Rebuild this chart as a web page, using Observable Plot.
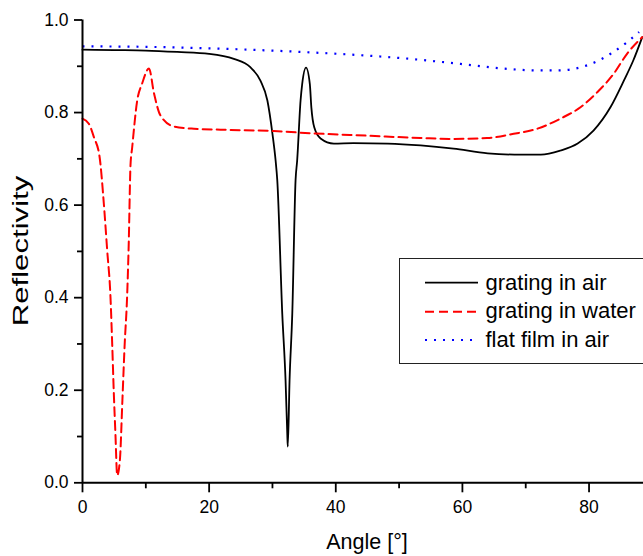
<!DOCTYPE html>
<html>
<head>
<meta charset="utf-8">
<script src="https://cdn.jsdelivr.net/npm/d3@7"></script>
<script src="https://cdn.jsdelivr.net/npm/@observablehq/plot@0.6"></script>
<style>
  html, body { margin: 0; padding: 0; background: #fff; overflow: hidden; }
  #wrap { position: relative; width: 643px; height: 556px; overflow: hidden; font-family: "Liberation Sans", Arial, sans-serif; }
  #legend { position: absolute; left: 399px; top: 258px; width: 260px; height: 106px; border: 1.5px solid #222; box-sizing: border-box; background: #fff; }
</style>
</head>
<body>
<div id="wrap"></div>
<script>
// ---- data ----
const seriesNames = ["grating in air", "grating in water", "flat film in air"];

const airAngle = [0, 5, 10, 15, 20, 23.9, 26.5, 28.1, 29.2, 30.0, 30.5, 30.76, 31.55, 32.07, 32.34, 32.42, 32.7, 33.13, 33.65, 33.9, 34.44, 34.7, 35.3, 35.9, 36.15, 36.6, 37.6, 39.7, 42.8, 48.2, 53.4, 58.6, 64.0, 69.2, 72.4, 75.5, 78.2, 80.7, 83.4, 85.5, 87.0, 88.4];
const airR     = [0.936, 0.935, 0.934, 0.931, 0.927, 0.916, 0.898, 0.869, 0.826, 0.754, 0.696, 0.654, 0.365, 0.221, 0.106, 0.078, 0.221, 0.365, 0.654, 0.696, 0.826, 0.862, 0.897, 0.862, 0.81, 0.768, 0.744, 0.733, 0.734, 0.733, 0.729, 0.722, 0.712, 0.709, 0.709, 0.718, 0.733, 0.761, 0.812, 0.869, 0.913, 0.963];

const waterAngle = [0, 1.0, 1.8, 2.7, 3.37, 3.9, 4.42, 4.69, 4.95, 5.2, 5.48, 5.9, 6.3, 6.64, 7.06, 7.3, 7.58, 7.85, 8.64, 9.4, 10.5, 11.3, 12.3, 14.4, 17.6, 21.8, 30.2, 36.5, 45, 53.4, 58.6, 63.9, 68.1, 71.8, 75.5, 78.7, 81.3, 83.9, 86.0, 88.4];
const waterR     = [0.787, 0.776, 0.747, 0.704, 0.603, 0.502, 0.401, 0.300, 0.192, 0.106, 0.016, 0.048, 0.178, 0.293, 0.408, 0.516, 0.686, 0.725, 0.826, 0.862, 0.895, 0.841, 0.794, 0.770, 0.765, 0.763, 0.760, 0.755, 0.750, 0.745, 0.743, 0.745, 0.754, 0.765, 0.787, 0.812, 0.844, 0.884, 0.927, 0.963];

const flatAngle = [0, 10, 21.8, 36, 45, 53.4, 59.7, 66.6, 71.8, 75, 79.7, 83.4, 86, 87.9];
const flatR     = [0.943, 0.942, 0.938, 0.930, 0.923, 0.914, 0.905, 0.895, 0.891, 0.891, 0.902, 0.927, 0.952, 0.974];

const xMajor = [0, 20, 40, 60, 80];
const xMinor = [10, 30, 50, 70];
const yMajor = [0, 0.2, 0.4, 0.6, 0.8, 1.0];
const yMinor = [0.1, 0.3, 0.5, 0.7, 0.9];
const xTitle = "Angle [°]";
const yTitle = "Reflectivity";

// ---- build ----
const toRows = (xs, ys) => xs.map((x, i) => ({x, y: ys[i]}));
const air = toRows(airAngle, airR);
const water = toRows(waterAngle, waterR);
const flat = toRows(flatAngle, flatR);

const styles = [
  {stroke: "#000000", dash: null, width: 1.8},
  {stroke: "#ff0000", dash: "9,5", width: 2},
  {stroke: "#0000ff", dash: "2,7", width: 2.2}
];

const font = "'Liberation Sans', Arial, sans-serif";

const chart = Plot.plot({
  width: 643,
  height: 556,
  marginLeft: 82,
  marginRight: 0,
  marginTop: 19.5,
  marginBottom: 73.7,
  x: {domain: [0, 88.6]},
  y: {domain: [0, 1]},
  style: {fontFamily: font, fontSize: "17.5px", color: "#000", background: "#fff", overflow: "visible"},
  marks: [
    Plot.axisY({ticks: yMajor, tickSize: 8, tickPadding: 6, tickFormat: d3.format(".1f"), label: null, strokeWidth: 1.8, fontSize: 17.5}),
    Plot.axisY({ticks: yMinor, tickSize: 5, tickFormat: () => "", label: null, strokeWidth: 1.8}),
    Plot.axisX({ticks: xMajor, tickSize: 10, tickPadding: 8, tickFormat: d => String(d), label: null, strokeWidth: 1.8, fontSize: 17.5}),
    Plot.axisX({ticks: xMinor, tickSize: 6, tickFormat: () => "", label: null, strokeWidth: 1.8}),
    Plot.line(air, {x: "x", y: "y", stroke: styles[0].stroke, strokeWidth: styles[0].width, curve: "monotone-x"}),
    Plot.line(water, {x: "x", y: "y", stroke: styles[1].stroke, strokeWidth: styles[1].width, strokeDasharray: styles[1].dash, curve: "monotone-x"}),
    Plot.line(flat, {x: "x", y: "y", stroke: styles[2].stroke, strokeWidth: styles[2].width, strokeDasharray: styles[2].dash, strokeLinecap: "butt", curve: "monotone-x"}),
    Plot.ruleX([0], {strokeWidth: 2}),
    Plot.ruleY([0], {strokeWidth: 2})
  ]
});

const wrap = document.getElementById("wrap");
wrap.appendChild(chart);

const svg = d3.select(chart);
svg.append("text")
  .attr("x", 367).attr("y", 549)
  .attr("text-anchor", "middle")
  .attr("font-family", font)
  .attr("font-size", 21.5)
  .attr("fill", "#000")
  .text(xTitle);
svg.append("text")
  .attr("transform", "translate(28,251) rotate(-90) scale(1.45,1)")
  .attr("text-anchor", "middle")
  .attr("font-family", font)
  .attr("font-size", 21.5)
  .attr("fill", "#000")
  .text(yTitle);

// legend
const legend = d3.select(wrap).append("div").attr("id", "legend");
const lsvg = legend.append("svg").attr("width", 260).attr("height", 106)
  .style("position", "absolute").style("left", "-1.5px").style("top", "-1.5px");
const lineY = [24.7, 53.7, 82];
const baseY = [32, 60.3, 88.7];
seriesNames.forEach((name, i) => {
  lsvg.append("line")
    .attr("x1", 26).attr("x2", 79)
    .attr("y1", lineY[i]).attr("y2", lineY[i])
    .attr("stroke", styles[i].stroke)
    .attr("stroke-width", styles[i].width)
    .attr("stroke-dasharray", styles[i].dash);
  lsvg.append("text")
    .attr("x", 86.5).attr("y", baseY[i])
    .attr("font-family", font)
    .attr("font-size", 22)
    .attr("fill", "#000")
    .text(name);
});
</script>
</body>
</html>
